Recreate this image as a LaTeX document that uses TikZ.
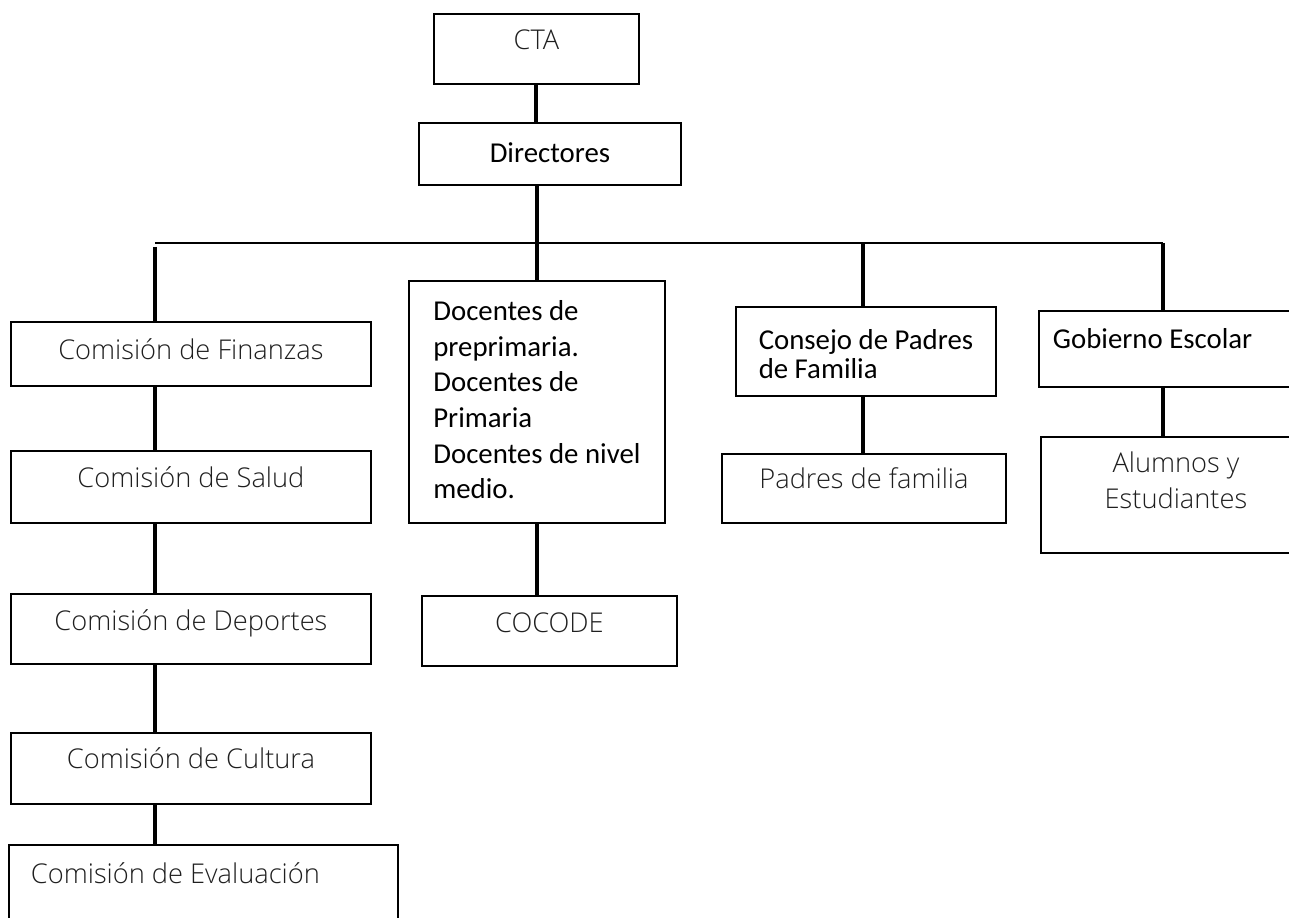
\documentclass[tikz,border=0pt]{standalone}
\usepackage{fontspec}
\setmainfont{Carlito}
\newfontfamily\lightfont{Open Sans Light}

\begin{document}
\begin{tikzpicture}[x=0.02cm,y=-0.02cm,
    box/.style={draw,line width=1.1pt,inner sep=0pt,anchor=north west},
    soft/.style={font=\lightfont\fontsize{15.5}{20.4}\selectfont,text=black!88},
    firm/.style={font=\fontsize{16.4}{20.4}\selectfont},
    tb/.style 2 args={text height=#1,text depth=#2},
    link/.style={line width=2.3pt}]
    % \draw[help lines] (0,0) grid (1289,918);
    \useasboundingbox (0,0) rectangle (1289,918);
    \clip (0,0) rectangle (1289,918);

    \node[box,soft,tb={0.72cm}{0.68cm},minimum width=4.10cm] (cta) at (433,13) {CTA};
    \node[box,firm,tb={0.80cm}{0.44cm},minimum width=5.24cm] (dir) at (418,122) {Directores};

    % left column
    \node[box,soft,tb={0.76cm}{0.52cm},minimum width=7.2cm] (fin) at (10,321) {Comisión de Finanzas};
    \node[box,soft,tb={0.74cm}{0.70cm},minimum width=7.2cm] (sal) at (10,450) {Comisión de Salud};
    \node[box,soft,tb={0.74cm}{0.66cm},minimum width=7.2cm] (dep) at (10,593) {Comisión de Deportes};
    \node[box,soft,tb={0.72cm}{0.70cm},minimum width=7.2cm] (cul) at (10,732) {Comisión de Cultura};
    \node[box,soft,tb={0.78cm}{1.14cm},inner xsep=0.44cm,text width=6.9cm,align=flush left] (eva) at (8,844) {Comisión de Evaluación};

    % middle columns
    \node[box,firm,font=\fontsize{16.4}{20.3}\selectfont,tb={4.36cm}{0.48cm},minimum width=5.12cm,align=left] (doc) at (408,280)
        {Docentes de\\preprimaria.\\Docentes de\\Primaria\\Docentes de nivel\\medio.};
    \node[box,soft,tb={0.74cm}{0.66cm},minimum width=5.10cm] (coc) at (421,595) {COCODE};
    \node[box,firm,font=\fontsize{16.4}{17}\selectfont,tb={1.44cm}{0.34cm},minimum width=5.2cm,align=left] (con) at (735,306)
        {Consejo de Padres\\de Familia};
    \node[box,soft,tb={0.70cm}{0.68cm},minimum width=5.68cm] (pad) at (721,453) {Padres de familia};

    % right column
    \node[box,firm,tb={0.76cm}{0.76cm},inner xsep=0.28cm,text width=4.68cm,align=flush left] (gob) at (1038,310) {Gobierno Escolar};
    \node[box,soft,font=\lightfont\fontsize{15.5}{21}\selectfont,tb={1.44cm}{0.88cm},minimum width=5.4cm,align=center] (alu) at (1040,436)
        {Alumnos y\\Estudiantes};

    \coordinate (busl) at (155,243);
    \coordinate (busm) at (863,243);
    \coordinate (busr) at (1163,243);

    \draw[link] (cta.south) -- (cta.south |- dir.north);
    \draw[link] (doc.north |- dir.south) -- (doc.north);
    \draw[line width=1.1pt] (busl) -- (busr);

    \draw[link] ([yshift=-0.08cm]busl) -- (busl |- fin.north);
    \foreach \a/\b in {fin/sal,sal/dep,dep/cul,cul/eva}
        \draw[link] (busl |- \a.south) -- (busl |- \b.north);
    \draw[link] (doc.south) -- (doc.south |- coc.north);
    \draw[link] (busm) -- (busm |- con.north);
    \draw[link] (busm |- con.south) -- (busm |- pad.north);
    \draw[link] (busr) -- (busr |- gob.north);
    \draw[link] (busr |- gob.south) -- (busr |- alu.north);
\end{tikzpicture}
\end{document}
